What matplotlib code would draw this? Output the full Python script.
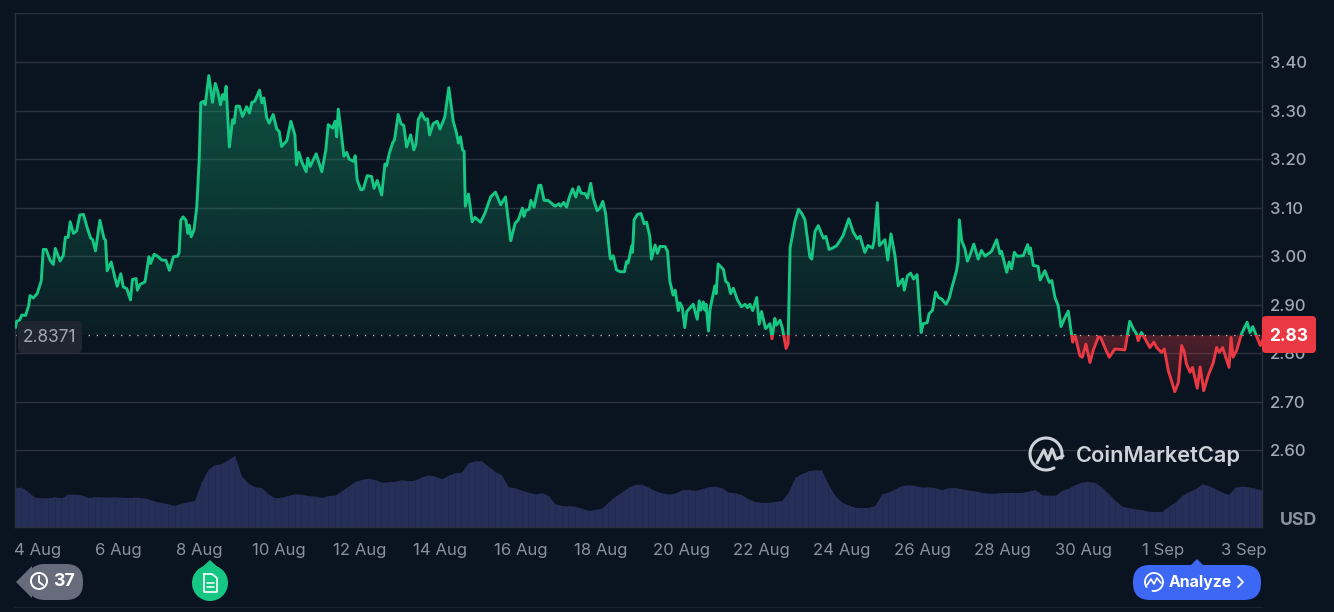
import numpy as np
import matplotlib
matplotlib.use("Agg")
import matplotlib.pyplot as plt
from matplotlib.patches import FancyBboxPatch, Polygon, Rectangle, Circle
from matplotlib.lines import Line2D
from matplotlib.transforms import Affine2D

# days counted from 4 Aug
days = [-0.56, -0.53, -0.46, -0.40, -0.31, -0.23, -0.20, -0.12, -0.02, 0.08, 0.13, 0.20, 0.30, 0.38, 0.43, 0.55, 0.63, 0.68, 0.75, 0.80,
        0.88, 0.96, 1.04, 1.13, 1.23, 1.31, 1.36, 1.43, 1.54, 1.64, 1.68, 1.72, 1.82, 1.91, 1.97, 2.06, 2.12, 2.21, 2.30, 2.35,
        2.44, 2.47, 2.54, 2.66, 2.76, 2.80, 2.89, 2.99, 3.08, 3.18, 3.27, 3.37, 3.47, 3.51, 3.55, 3.61, 3.68, 3.73, 3.76, 3.81,
        3.88, 3.95, 4.01, 4.05, 4.11, 4.16, 4.25, 4.34, 4.41, 4.47, 4.54, 4.59, 4.63, 4.68, 4.76, 4.84, 4.88, 4.93, 5.01, 5.09,
        5.19, 5.26, 5.32, 5.39, 5.51, 5.57, 5.62, 5.69, 5.75, 5.85, 5.94, 6.00, 6.06, 6.19, 6.29, 6.39, 6.43, 6.49, 6.56, 6.67,
        6.71, 6.77, 6.92, 7.06, 7.16, 7.22, 7.33, 7.39, 7.43, 7.47, 7.53, 7.61, 7.68, 7.74, 7.86, 7.89, 7.94, 8.03, 8.09, 8.19,
        8.30, 8.36, 8.44, 8.55, 8.63, 8.67, 8.74, 8.82, 8.87, 8.96, 9.03, 9.10, 9.17, 9.27, 9.35, 9.40, 9.46, 9.54, 9.63, 9.69,
        9.74, 9.83, 9.93, 10.00, 10.12, 10.22, 10.33, 10.41, 10.46, 10.51, 10.56, 10.60, 10.63, 10.71, 10.80, 10.87, 11.01, 11.12, 11.26, 11.38,
        11.51, 11.63, 11.76, 11.87, 11.95, 12.05, 12.09, 12.13, 12.22, 12.26, 12.34, 12.46, 12.51, 12.59, 12.69, 12.86, 12.96, 13.00, 13.08, 13.15,
        13.22, 13.30, 13.38, 13.45, 13.51, 13.61, 13.67, 13.75, 13.81, 13.91, 13.98, 14.05, 14.12, 14.23, 14.25, 14.31, 14.39, 14.48, 14.59, 14.64,
        14.68, 14.77, 14.79, 14.83, 14.91, 15.00, 15.08, 15.14, 15.22, 15.26, 15.35, 15.41, 15.47, 15.60, 15.66, 15.72, 15.80, 15.85, 15.93, 15.97,
        16.03, 16.09, 16.14, 16.30, 16.40, 16.45, 16.49, 16.55, 16.59, 16.62, 16.68, 16.72, 16.84, 16.87, 16.92, 17.05, 17.11, 17.17, 17.23, 17.30,
        17.40, 17.50, 17.59, 17.65, 17.71, 17.78, 17.88, 17.94, 18.00, 18.10, 18.21, 18.26, 18.33, 18.37, 18.46, 18.52, 18.61, 18.66, 18.71, 18.83,
        18.92, 19.00, 19.08, 19.20, 19.25, 19.33, 19.41, 19.54, 19.60, 19.68, 19.77, 19.87, 19.95, 20.03, 20.17, 20.28, 20.38, 20.45, 20.57, 20.65,
        20.76, 20.80, 20.88, 20.93, 21.07, 21.14, 21.22, 21.32, 21.40, 21.51, 21.55, 21.63, 21.71, 21.78, 21.87, 21.97, 22.02, 22.12, 22.17, 22.25,
        22.33, 22.40, 22.48, 22.59, 22.67, 22.73, 22.85, 22.89, 22.92, 22.98, 23.06, 23.12, 23.18, 23.28, 23.39, 23.47, 23.56, 23.72, 23.85, 23.93,
        23.97, 24.10, 24.16, 24.22, 24.29, 24.36, 24.51, 24.62, 24.66, 24.69, 24.76, 24.88, 24.93, 25.05, 25.16, 25.22, 25.30, 25.38, 25.45, 25.55,
        25.63, 25.71, 25.74, 25.80, 25.92, 25.98, 26.07, 26.17, 26.25, 26.38, 26.44, 26.54, 26.65, 26.79, 27.04, 27.10, 27.16, 27.25, 27.33, 27.37,
        27.45, 27.54, 27.66, 27.76, 27.83, 27.95, 28.02, 28.12, 28.20, 28.28, 28.37, 28.45, 28.51, 28.57, 28.66, 28.72, 28.84, 28.91, 29.00, 29.11,
        29.24, 29.32, 29.39, 29.47, 29.63, 29.68, 29.73, 29.82, 29.94, 30.08, 30.15, 30.22, 30.31, 30.41, 30.46]

prices = [2.854, 2.866, 2.868, 2.879, 2.878, 2.899, 2.919, 2.914, 2.923, 2.949, 3.014, 3.014, 2.992, 2.983, 3.016, 2.990, 3.002, 3.039, 3.039, 3.071,
          3.047, 3.052, 3.085, 3.086, 3.057, 3.037, 3.034, 3.011, 3.074, 3.037, 3.033, 2.970, 2.988, 2.957, 2.938, 2.964, 2.937, 2.933, 2.910, 2.952,
          2.954, 2.930, 2.942, 2.947, 2.999, 2.985, 3.004, 2.999, 2.992, 2.992, 2.971, 2.999, 3.000, 3.007, 3.074, 3.081, 3.074, 3.047, 3.064, 3.040,
          3.054, 3.102, 3.199, 3.316, 3.319, 3.312, 3.372, 3.317, 3.356, 3.340, 3.312, 3.333, 3.323, 3.350, 3.225, 3.281, 3.274, 3.309, 3.309, 3.288,
          3.308, 3.295, 3.317, 3.319, 3.342, 3.316, 3.326, 3.285, 3.274, 3.292, 3.262, 3.257, 3.226, 3.238, 3.278, 3.250, 3.188, 3.214, 3.195, 3.174,
          3.202, 3.185, 3.211, 3.174, 3.219, 3.271, 3.264, 3.278, 3.246, 3.303, 3.264, 3.206, 3.214, 3.200, 3.195, 3.207, 3.157, 3.137, 3.138, 3.166,
          3.164, 3.140, 3.156, 3.126, 3.190, 3.186, 3.212, 3.233, 3.240, 3.292, 3.273, 3.269, 3.225, 3.250, 3.219, 3.230, 3.281, 3.295, 3.281, 3.283,
          3.250, 3.273, 3.278, 3.262, 3.287, 3.347, 3.278, 3.254, 3.233, 3.246, 3.219, 3.216, 3.103, 3.128, 3.071, 3.080, 3.070, 3.089, 3.122, 3.132,
          3.106, 3.122, 3.032, 3.068, 3.075, 3.099, 3.082, 3.094, 3.097, 3.115, 3.101, 3.146, 3.146, 3.115, 3.115, 3.103, 3.108, 3.103, 3.111, 3.101,
          3.122, 3.139, 3.122, 3.143, 3.130, 3.129, 3.120, 3.150, 3.120, 3.094, 3.099, 3.113, 3.088, 2.999, 2.994, 3.001, 2.972, 2.968, 2.968, 2.989,
          2.986, 3.021, 3.008, 3.075, 3.086, 3.088, 3.067, 3.070, 3.041, 2.994, 3.023, 3.006, 3.020, 3.020, 3.010, 2.948, 2.920, 2.930, 2.888, 2.904,
          2.894, 2.853, 2.886, 2.901, 2.870, 2.908, 2.889, 2.906, 2.889, 2.901, 2.846, 2.892, 2.939, 2.923, 2.984, 2.973, 2.948, 2.944, 2.923, 2.934,
          2.910, 2.896, 2.901, 2.894, 2.901, 2.888, 2.915, 2.860, 2.886, 2.851, 2.861, 2.830, 2.872, 2.858, 2.868, 2.851, 2.810, 2.820, 3.017, 3.072,
          3.097, 3.088, 3.075, 2.999, 2.994, 3.051, 3.063, 3.037, 3.041, 3.014, 3.017, 3.022, 3.032, 3.043, 3.077, 3.050, 3.036, 3.041, 3.008, 3.022,
          3.017, 3.032, 3.110, 3.022, 3.034, 2.992, 3.046, 3.001, 2.939, 2.953, 2.930, 2.960, 2.965, 2.953, 2.962, 2.843, 2.861, 2.863, 2.882, 2.888,
          2.926, 2.915, 2.912, 2.901, 2.914, 2.934, 2.970, 2.991, 3.075, 3.032, 3.015, 2.990, 3.001, 3.025, 2.994, 3.012, 3.000, 3.010, 3.034, 3.005,
          3.010, 2.967, 2.988, 2.974, 3.008, 3.000, 3.001, 3.024, 3.005, 3.017, 2.981, 2.979, 2.951, 2.970, 2.946, 2.950, 2.915, 2.898, 2.855, 2.874,
          2.887, 2.840, 2.823, 2.837, 2.795, 2.792, 2.819, 2.781, 2.806, 2.834, 2.832, 2.812, 2.792, 2.809, 2.807, 2.837, 2.866, 2.850, 2.840, 2.826,
          2.843, 2.830, 2.812, 2.823, 2.812, 2.802, 2.809, 2.764, 2.743, 2.721, 2.740, 2.816, 2.805, 2.778, 2.761, 2.771, 2.728, 2.772, 2.723, 2.754,
          2.781, 2.812, 2.802, 2.812, 2.771, 2.833, 2.792, 2.806, 2.840, 2.864, 2.843, 2.855, 2.836, 2.816, 2.826]

# volume, evenly spaced over the chart, no scale in the chart so just relative
volume = [38.7, 39.3, 35, 29.3, 28.7, 28.7, 29.7, 28.7, 32.3, 32.3, 31.7, 29, 29.7, 29.7, 29.3, 29.7, 29.3, 29, 29.3, 29,
          27.7, 25.3, 24, 22.7, 21, 23.3, 24.7, 26, 44.3, 57, 61.7, 62.7, 67, 71, 51, 43.3, 39.7, 39, 32.7, 28.7,
          29.3, 31, 32.7, 32.3, 31, 30.3, 29, 31, 31.3, 35.7, 40.3, 45, 47, 48.3, 47, 44.3, 44.7, 45.3, 46.7, 45.7,
          46.3, 49.3, 51.7, 50.3, 47.7, 51, 53.7, 54.3, 63.7, 65.7, 65.7, 60.3, 55, 51.7, 39.7, 38.7, 36.3, 34.3, 32.7, 33.7,
          31, 22.7, 21, 20.7, 20.3, 18.3, 16, 17, 18.3, 24.3, 30, 34.3, 39.3, 42, 42.3, 39.3, 36, 33.7, 32.3, 33.3,
          36.7, 37, 36, 37.7, 39.7, 40.3, 38.7, 34.3, 33.7, 31.7, 27.7, 25, 24, 24, 25, 26, 34.3, 49.3, 53, 55.7,
          56.7, 56.3, 41.7, 31, 24.3, 21.7, 19, 19, 19, 21, 32.7, 34.3, 37.7, 41, 41.7, 41, 39.3, 39.7, 38.7, 37,
          38.7, 39, 37.7, 36.3, 35.7, 34, 33.3, 33.3, 34, 34, 34, 34, 35.3, 37, 31.7, 31.3, 31.3, 36, 38.3, 42,
          44.3, 45, 43.7, 39.3, 32.7, 26, 20.3, 18.7, 17.7, 16.7, 15.3, 15, 15, 20.3, 24.3, 31, 35, 37.7, 42.7, 41,
          37.7, 34.3, 32, 39.3, 40.3, 39.7, 38.3, 36]

price_ticks = [2.60, 2.70, 2.80, 2.90, 3.00, 3.10, 3.20, 3.30, 3.40, 3.50]
price_labels = ["2.60", "2.70", "2.80", "2.90", "3.00", "3.10", "3.20", "3.30", "3.40", ""]
date_ticks = [0, 2, 4, 6, 8, 10, 12, 14, 16, 18, 20, 22, 24, 26, 28, 30]
date_labels = ["4 Aug", "6 Aug", "8 Aug", "10 Aug", "12 Aug", "14 Aug", "16 Aug", "18 Aug", "20 Aug", "22 Aug",
               "24 Aug", "26 Aug", "28 Aug", "30 Aug", "1 Sep", "3 Sep"]
base_price = 2.8371
last_price = 2.83

W, H = 1334, 612
BG = "#0a1420"
GRID = "#29323e"
GREEN = "#16c784"
RED = "#ea3943"
TXT = "#a1a7b3"
plt.rcParams["font.family"] = ["Inter", "Liberation Sans", "DejaVu Sans"]

fig = plt.figure(figsize=(W / 100, H / 100), dpi=100, facecolor=BG)
ax = fig.add_axes([14.5 / W, 1 - 526.5 / H, (1262 - 14.5) / W, (526.5 - 13) / H], facecolor=BG)
xmin, xmax = -0.585, 30.45
ymin, ymax = 2.4433, 3.501
ax.set_xlim(xmin, xmax)
ax.set_ylim(ymin, ymax)

days = np.array(days)
prices = np.array(prices)

# volume on its own axis, hidden
vol_ax = ax.twinx()
vol_ax.set_ylim(0, 513.5)
vol_ax.set_yticks([])
vol_x = np.linspace(xmin, xmax, len(volume))
vol_ax.fill_between(vol_x, volume, 0, color="#262f58", linewidth=0)
vol_ax.vlines(vol_x, 0, volume, color="#222a50", linewidth=0.6)
vol_ax.set_zorder(1)
ax.set_zorder(2)
ax.patch.set_visible(False)
vol_ax.patch.set_facecolor(BG)
for s in vol_ax.spines.values():
    s.set_visible(False)

ax.set_yticks(price_ticks)
ax.set_yticklabels(price_labels, fontsize=12, color=TXT, fontweight="medium")
ax.yaxis.tick_right()
ax.set_xticks(date_ticks)
ax.set_xticklabels(date_labels, fontsize=12, color="#8a919e")
ax.tick_params(axis="both", length=0)
ax.tick_params(axis="y", pad=6)
ax.tick_params(axis="x", pad=12)
ax.grid(axis="y", color=GRID, linewidth=1.0, zorder=1)
ax.set_axisbelow(True)
for name, s in ax.spines.items():
    s.set_color(GRID)
    s.set_linewidth(1.0)
ax.spines["top"].set_visible(False)


def gradient_fill(top, bottom, color, alpha_top, alpha_bottom, other):
    # area between the price and the base line, fading vertically
    poly = ax.fill_between(days, other(prices, base_price), base_price, color="none", linewidth=0)
    n = 200
    img = np.zeros((n, 1, 4))
    img[:, :, :3] = matplotlib.colors.to_rgb(color)
    img[:, 0, 3] = np.linspace(alpha_top, alpha_bottom, n)
    im = ax.imshow(img, extent=[xmin, xmax, bottom, top], aspect="auto", origin="upper", zorder=1.5)
    im.set_clip_path(poly.get_paths()[0], ax.transData)
    ax.set_xlim(xmin, xmax)
    ax.set_ylim(ymin, ymax)


gradient_fill(3.38, base_price, GREEN, 0.36, 0.05, np.maximum)
gradient_fill(base_price, 2.72, RED, 0.32, 0.08, np.minimum)

ax.axhline(base_price, color="#c3c7ce", linewidth=0.9, linestyle=(0, (1, 5.5)), zorder=2)

up = ax.plot(days, prices, color=GREEN, linewidth=2.1, solid_joinstyle="round", zorder=3)[0]
up.set_clip_path(Rectangle((xmin, base_price), xmax - xmin, ymax - base_price, transform=ax.transData))
down = ax.plot(days, prices, color=RED, linewidth=2.1, solid_joinstyle="round", zorder=3)[0]
down.set_clip_path(Rectangle((xmin, ymin), xmax - xmin, base_price - ymin, transform=ax.transData))

# everything below sits on the figure, positioned in pixels from the top left
px = Affine2D().scale(1 / W, -1 / H).translate(0, 1) + fig.transFigure


def pill(x0, y0, x1, y1, r, color, z=5):
    fig.add_artist(FancyBboxPatch((x0 + r, y0 + r), x1 - x0 - 2 * r, y1 - y0 - 2 * r,
                                  boxstyle="round,pad=%g,rounding_size=%g" % (r, r),
                                  transform=px, facecolor=color, edgecolor="none", zorder=z))


def label(x, y, s, color="white", size=11, weight="normal", ha="center"):
    fig.text(x / W, 1 - y / H, s, color=color, fontsize=size, fontweight=weight, ha=ha, va="center", zorder=7)


def stroke(xs, ys, color="white", lw=1.4, z=6):
    fig.add_artist(Line2D(xs, ys, color=color, linewidth=lw, transform=px, zorder=z,
                          solid_capstyle="round", solid_joinstyle="round"))


def arc(cx, cy, r, a0, a1):
    t = np.radians(np.linspace(a0, a1, 60))
    return cx + r * np.cos(t), cy - r * np.sin(t)


# base price tag and last price tag
pill(18, 321, 82, 353, 5, "#1f2630")
label(50, 337, "2.8371", color="#a1a7b3", size=12.4)
pill(1262, 316, 1316, 353, 4, RED)
label(1289, 336, "%.2f" % last_price, size=12.5, weight="bold")
label(1299, 520.5, "USD", color="#8a919e", size=12.8, weight="bold")

# watermark
logo = "#ced3da"
xs, ys = arc(1046, 454, 16, -15, 300)
stroke(xs, ys, logo, 2.2)
stroke([1037, 1044, 1048, 1052, 1056, 1063], [463, 450, 460, 449, 459, 456], logo, 2.2)
label(1076, 456, "CoinMarketCap", color=logo, size=15.7, weight="semibold", ha="left")

# history pill
pill(28, 564, 83, 600, 17, "#666c7b")
fig.add_artist(Polygon([[16, 582], [32, 566], [32, 598]], closed=True, transform=px, facecolor="#666c7b",
                       edgecolor="none", zorder=5))
xs, ys = arc(39, 581, 8, -210, 150)
stroke(xs, ys, "white", 1.4)
stroke([39, 39, 43], [576, 582, 585], "white", 1.4)
label(64, 582, "37", size=12.8, weight="bold")

# news marker
fig.add_artist(Circle((210, 583), 18, transform=px, facecolor=GREEN, edgecolor="none", zorder=5))
fig.add_artist(Polygon([[197, 572], [210, 560], [223, 572]], closed=True, transform=px, facecolor=GREEN,
                       edgecolor="none", zorder=5))
stroke([204, 212, 217, 217, 204, 204], [574, 574, 578, 592, 592, 574], "white", 1.2)
stroke([207, 214], [583, 583], "white", 1.1)
stroke([207, 214], [587, 587], "white", 1.1)

# analyze button
pill(1133, 565, 1261, 600, 17, "#3d67f5")
fig.add_artist(Polygon([[1190, 566], [1197, 559], [1204, 566]], closed=True, transform=px, facecolor="#3d67f5",
                       edgecolor="none", zorder=5))
xs, ys = arc(1154, 582, 9, -100, 215)
stroke(xs, ys, "white", 1.3)
stroke([1147, 1151, 1154, 1157, 1161], [585, 579, 584, 578, 583], "white", 1.2)
label(1200, 582, "Analyze", size=11.4, weight="bold")
stroke([1238, 1243, 1238], [577, 582, 587], "white", 1.3)

# faint frame line under the buttons
stroke([14, 1262], [607, 607], "#1a222e", 0.8, z=1)

fig.savefig("out.png", dpi=100, facecolor=BG)
